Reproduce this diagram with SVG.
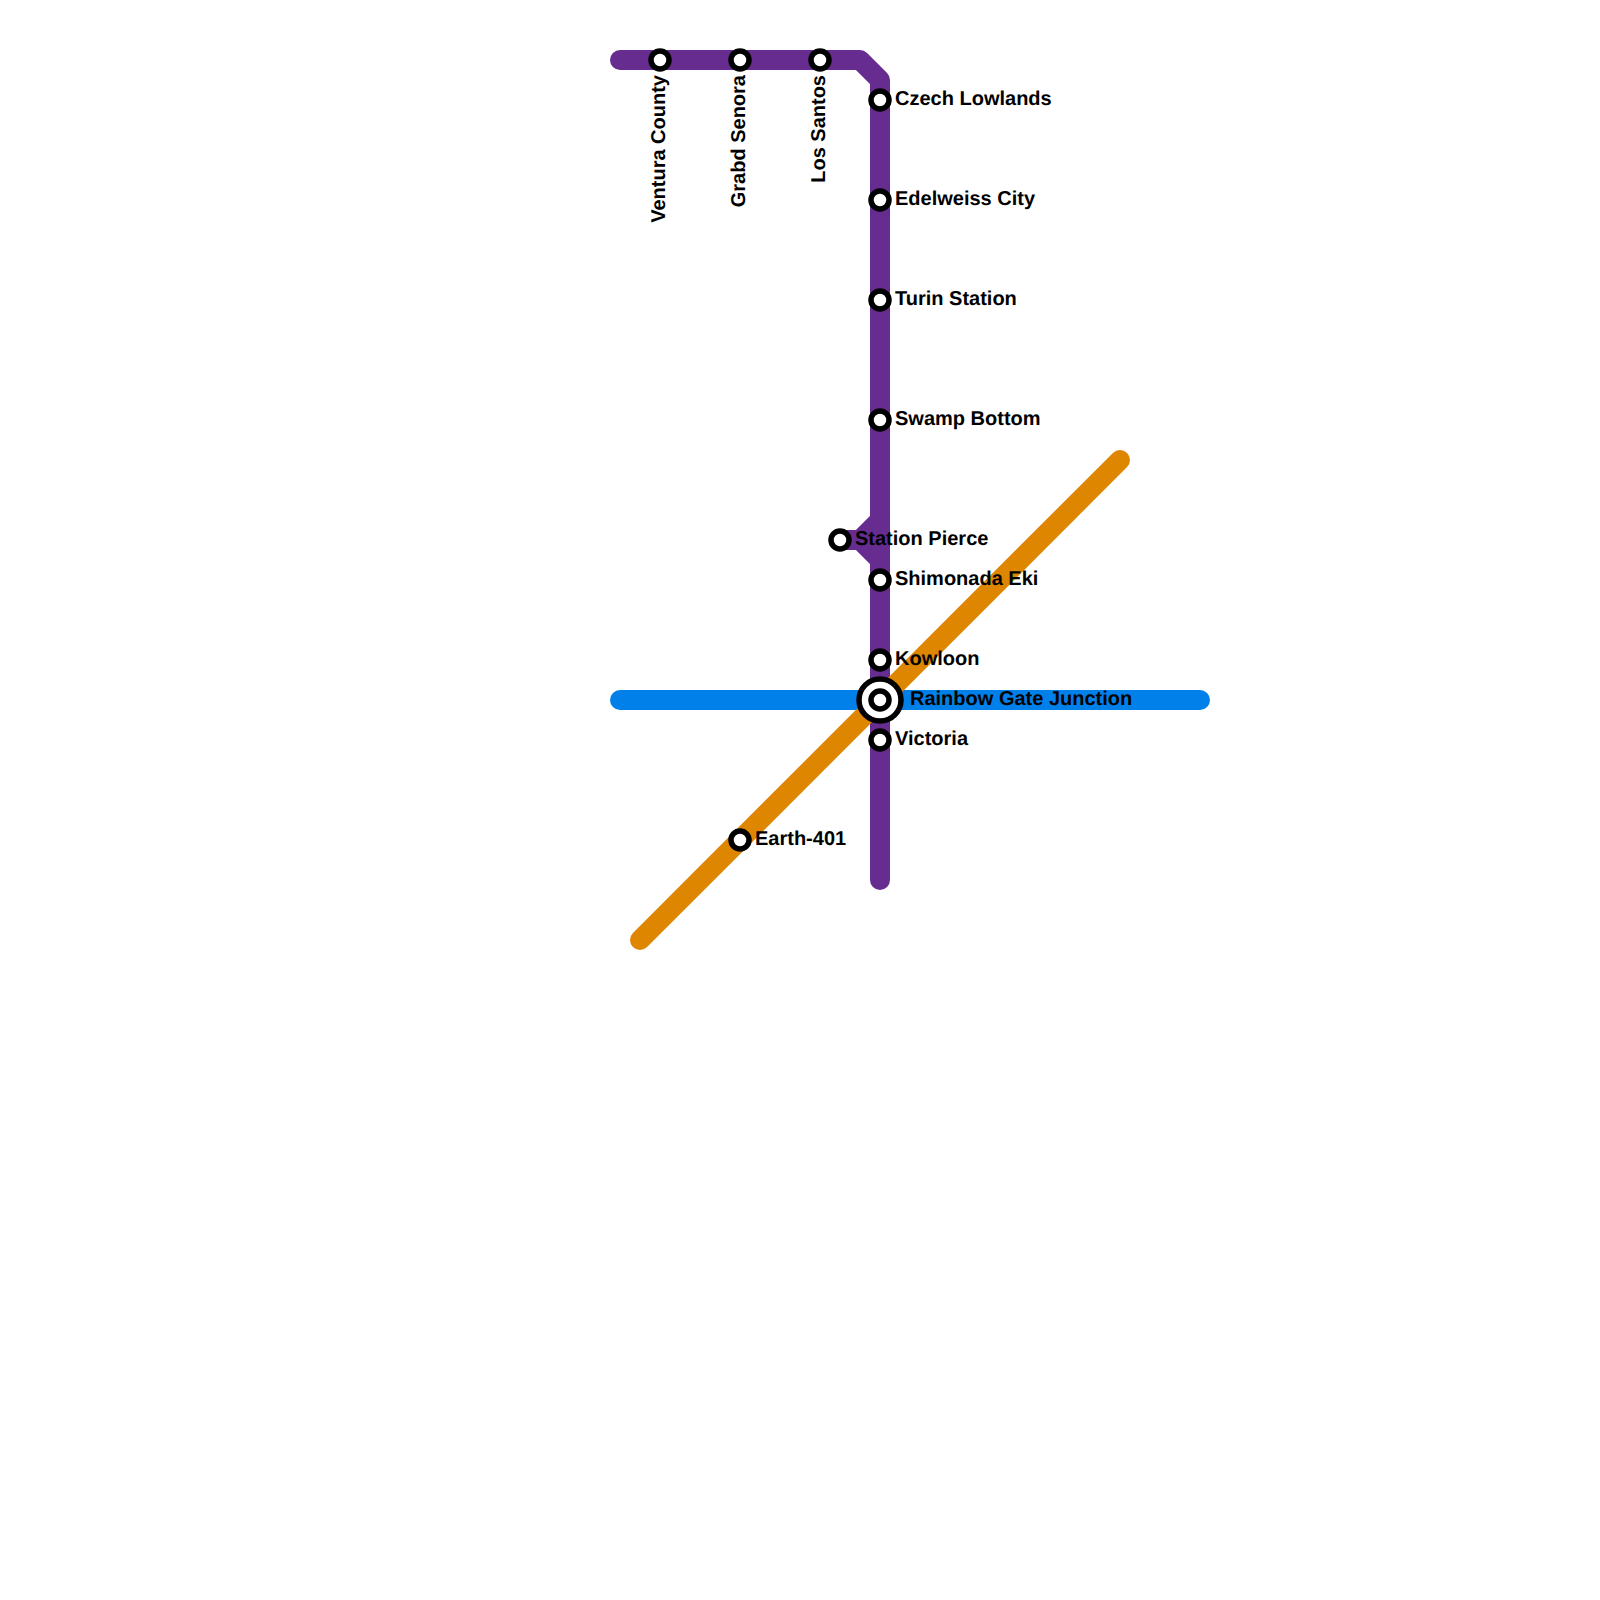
<svg xmlns="http://www.w3.org/2000/svg" width="1600" height="1600" viewBox="0 0 1600 1600">
<style>
.l{fill:none;stroke-width:20;stroke-linecap:round;stroke-linejoin:round}
.s{fill:#fff;stroke:#000;stroke-width:5.5}
text{font-family:"Liberation Sans",Arial,sans-serif;font-weight:bold;font-size:20px;fill:#000;text-rendering:geometricPrecision}
</style>
<rect width="1600" height="1600" fill="#fff"/>
<g id="connectors">
<path class="l" stroke="#662c90" d="M620 60H860L880 80V880"/>
<path class="l" stroke="#662c90" d="M880 520L860 540H840M860 540L880 560"/>
<path class="l" stroke="#0080e8" d="M620 700H1200"/>
<path class="l" stroke="#df8600" d="M640 940L1120 460"/>
</g>
<g id="ventura-county"><circle class="s" cx="660" cy="60" r="9"/><text transform="translate(665 75) rotate(-90)" text-anchor="end">Ventura County</text></g>
<g id="grabd-senora"><circle class="s" cx="740" cy="60" r="9"/><text transform="translate(745 75) rotate(-90)" text-anchor="end">Grabd Senora</text></g>
<g id="los-santos"><circle class="s" cx="820" cy="60" r="9"/><text transform="translate(825 75) rotate(-90)" text-anchor="end">Los Santos</text></g>
<g id="czech-lowlands"><circle class="s" cx="880" cy="100" r="9"/><text x="895" y="105">Czech Lowlands</text></g>
<g id="edelweiss-city"><circle class="s" cx="880" cy="200" r="9"/><text x="895" y="205">Edelweiss City</text></g>
<g id="turin-station"><circle class="s" cx="880" cy="300" r="9"/><text x="895" y="305">Turin Station</text></g>
<g id="swamp-bottom"><circle class="s" cx="880" cy="420" r="9"/><text x="895" y="425">Swamp Bottom</text></g>
<g id="station-pierce"><circle class="s" cx="840" cy="540" r="9"/><text x="855" y="545">Station Pierce</text></g>
<g id="shimonada-eki"><circle class="s" cx="880" cy="580" r="9"/><text x="895" y="585">Shimonada Eki</text></g>
<g id="kowloon"><circle class="s" cx="880" cy="660" r="9"/><text x="895" y="665">Kowloon</text></g>
<g id="rainbow-gate-junction"><circle class="s" cx="880" cy="700" r="21"/><circle class="s" cx="880" cy="700" r="9"/><text x="910" y="705">Rainbow Gate Junction</text></g>
<g id="victoria"><circle class="s" cx="880" cy="740" r="9"/><text x="895" y="745">Victoria</text></g>
<g id="earth-401"><circle class="s" cx="740" cy="840" r="9"/><text x="755" y="845">Earth-401</text></g>
</svg>
